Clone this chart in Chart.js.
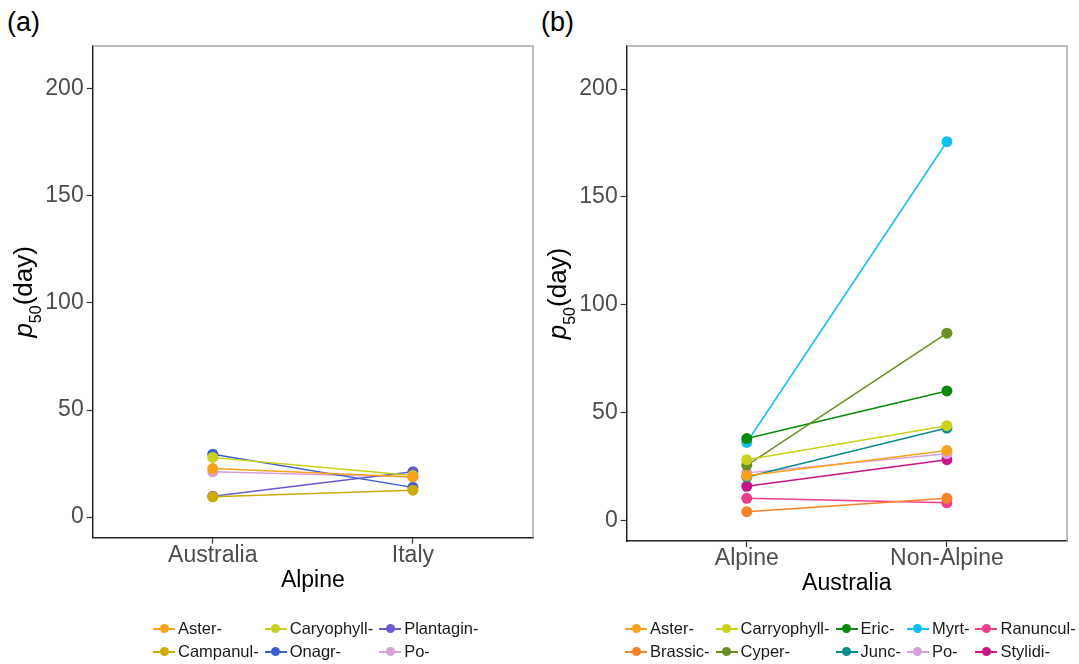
<!DOCTYPE html>
<html>
<head>
<meta charset="utf-8">
<script src="https://cdn.jsdelivr.net/npm/chart.js@4.4.1/dist/chart.umd.min.js"></script>
<style>
  html, body { margin: 0; padding: 0; background: #fff; }
  body { width: 1079px; height: 664px; position: relative; overflow: hidden;
         font-family: 'Liberation Sans', Arial, sans-serif; }
  canvas { position: absolute; top: 0; }
  .tag { position: absolute; font-size: 27px; line-height: 27px; color: #000; }
  .legend { position: absolute; display: grid; grid-auto-flow: column;
            grid-template-rows: 23px 23px; grid-auto-columns: max-content; column-gap: 6px;
            font-size: 16.5px; color: #1a1a1a; }
  .item { display: flex; align-items: center; white-space: nowrap; }
  .key { position: relative; width: 22px; height: 23px; margin-right: 3px; flex: none; }
  .key::before { content: ''; position: absolute; left: 0; right: 0; top: 10.5px; height: 2px; background: var(--c); }
  .key::after { content: ''; position: absolute; left: 6.5px; top: 7px; width: 9px; height: 9px;
                border-radius: 50%; background: var(--c); }
</style>
</head>
<body>
<div class="tag" style="left:7px;top:9px">(a)</div>
<div class="tag" style="left:541px;top:9px">(b)</div>
<canvas id="chartA" width="540" height="664" style="left:0;width:540px;height:664px"></canvas>
<canvas id="chartB" width="539" height="664" style="left:540px;width:539px;height:664px"></canvas>
<div class="legend" id="legendA" style="left:153px;top:617px"></div>
<div class="legend" id="legendB" style="left:625px;top:617px"></div>

<script>
// ---- panel (a): alpine species, Australia vs Italy ----
const familiesA = ['Aster-', 'Campanul-', 'Caryophyll-', 'Onagr-', 'Plantagin-', 'Po-'];
const colorsA   = ['#F7A21B', '#CDAA06', '#C9D21A', '#3A5FCD', '#6A5ACD', '#D8A0D8'];
const australiaA = [22.7, 9.5, 27.9, 29.4, 9.8, 21.2];
const italyA     = [18.8, 12.6, 19.4, 13.9, 21.2, 18.8];
const xLabelsA = ['Australia', 'Italy'];

// ---- panel (b): Australian species, alpine vs non-alpine ----
const familiesB = ['Aster-', 'Brassic-', 'Carryophyll-', 'Cyper-', 'Eric-', 'Junc-', 'Myrt-', 'Po-', 'Ranuncul-', 'Stylidi-'];
const colorsB   = ['#F7A21B', '#F5832A', '#C9D21A', '#6B8E23', '#0A8A0A', '#0A8B8B', '#10BEF2', '#D8A0D8', '#EC3E8B', '#C71585'];
const alpineB    = [20.7, 4.0, 28.1, 25.5, 37.9, 20.1, 36.1, 22.0, 10.2, 15.8];
const nonAlpineB = [32.4, 10.2, 43.9, 86.8, 60.0, 42.8, 175.6, 30.9, 8.1, 28.1];
const xLabelsB = ['Alpine', 'Non-Alpine'];

const yTickValues = [0, 50, 100, 150, 200];
const FONT = "'Liberation Sans', Arial, sans-serif";

// gray panel border (top/right) and the italic p50 axis title
const panelDecor = {
  id: 'panelDecor',
  beforeDatasetsDraw(chart) {
    const { ctx, chartArea: a } = chart;
    ctx.save();
    ctx.strokeStyle = '#a8a8a8';
    ctx.lineWidth = 1.5;
    ctx.beginPath();
    ctx.moveTo(a.left, a.top);
    ctx.lineTo(a.right, a.top);
    ctx.lineTo(a.right, a.bottom);
    ctx.stroke();
    ctx.restore();
  },
  afterDraw(chart) {
    const { ctx, chartArea: a } = chart;
    const x = a.left - 61.2;
    const cy = (a.top + a.bottom) / 2;
    ctx.save();
    ctx.translate(x, cy);
    ctx.rotate(-Math.PI / 2);
    ctx.fillStyle = '#000';
    ctx.textBaseline = 'alphabetic';
    ctx.textAlign = 'left';
    const fMain = '26px ' + FONT, fItal = 'italic 26px ' + FONT, fSub = '16px ' + FONT;
    ctx.font = fItal; const wP = ctx.measureText('p').width;
    ctx.font = fSub;  const wS = ctx.measureText('50').width;
    ctx.font = fMain; const wD = ctx.measureText('(day)').width;
    let px = -(wP + wS + wD) / 2;
    ctx.font = fItal; ctx.fillText('p', px, 0); px += wP;
    ctx.font = fSub;  ctx.fillText('50', px, 9); px += wS;
    ctx.font = fMain; ctx.fillText('(day)', px, 0);
    ctx.restore();
  }
};

function makeChart(id, families, colors, v1, v2, xLabels, xTitle, geom) {
  const datasets = families.map((f, i) => ({
    label: f,
    data: [{ x: 1, y: v1[i] }, { x: 2, y: v2[i] }],
    borderColor: colors[i],
    backgroundColor: colors[i],
    borderWidth: 1.5,
    pointRadius: 5.5,
    pointBorderWidth: 0,
    fill: false,
    tension: 0
  }));
  const axisGrid = { drawOnChartArea: false, tickLength: 6, tickColor: '#333', tickWidth: 1.2 };
  const axisBorder = { color: '#222', width: 1.5 };
  return new Chart(document.getElementById(id), {
    type: 'line',
    data: { datasets },
    options: {
      responsive: false,
      animation: false,
      events: [],
      layout: { padding: geom.padding },
      plugins: { legend: { display: false }, tooltip: { enabled: false } },
      scales: {
        x: {
          type: 'linear', min: 0.4, max: 2.6,
          afterBuildTicks: s => { s.ticks = [1, 2].map(v => ({ value: v })); },
          afterFit: s => { s.height = geom.xHeight; },
          grid: axisGrid, border: axisBorder,
          ticks: {
            callback: (v, i) => xLabels[i],
            font: { size: 23, family: FONT, lineHeight: 1 },
            color: '#4d4d4d', padding: 0, maxRotation: 0, autoSkip: false
          },
          title: { display: true, text: xTitle, color: '#000',
                   font: { size: 23, family: FONT }, padding: 0 }
        },
        y: {
          type: 'linear', min: -9.6, max: 220,
          afterBuildTicks: s => { s.ticks = yTickValues.map(v => ({ value: v })); },
          afterFit: s => { s.width = geom.yWidth; },
          grid: axisGrid, border: axisBorder,
          ticks: { font: { size: 23, family: FONT }, color: '#4d4d4d', padding: 3 }
        }
      }
    },
    plugins: [panelDecor]
  });
}

makeChart('chartA', familiesA, colorsA, australiaA, italyA, xLabelsA, 'Alpine',
  { padding: { left: 0, top: 46, right: 7, bottom: 69.3 }, xHeight: 57, yWidth: 92.7 });
makeChart('chartB', familiesB, colorsB, alpineB, nonAlpineB, xLabelsB, 'Australia',
  { padding: { left: 0, top: 46, right: 12, bottom: 67 }, xHeight: 56, yWidth: 86.7 });

// legends in column-major order, two rows
function buildLegend(elId, families, colors) {
  const el = document.getElementById(elId);
  families.forEach((f, i) => {
    const item = document.createElement('div');
    item.className = 'item';
    const key = document.createElement('span');
    key.className = 'key';
    key.style.setProperty('--c', colors[i]);
    const txt = document.createElement('span');
    txt.textContent = f;
    item.appendChild(key);
    item.appendChild(txt);
    el.appendChild(item);
  });
}
buildLegend('legendA', familiesA, colorsA);
buildLegend('legendB', familiesB, colorsB);
</script>
</body>
</html>
